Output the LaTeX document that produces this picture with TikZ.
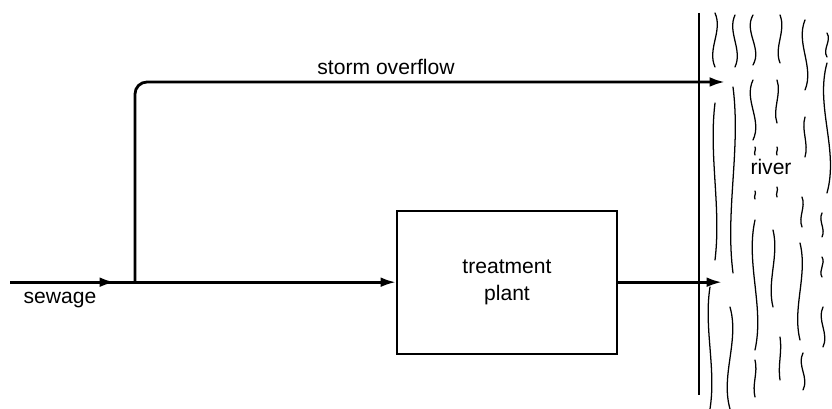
\documentclass[tikz,border=0pt]{standalone}
\usepackage{fontspec}
\setmainfont{Liberation Sans}
\usetikzlibrary{arrows.meta}

\tikzset{
  pipe/.style={line width=2pt},
  flow/.style={pipe, -{Latex[length=11pt,width=7pt]}},
  plantbox/.style={draw, line width=1.4pt, minimum width=5.5cm, minimum height=3.575cm, align=center},
  bank/.style={line width=1.8pt},
  wave/.style={line width=0.9pt, line cap=round},
}

\begin{document}
\begin{tikzpicture}[scale=1]\fontsize{15}{19}\selectfont
			\useasboundingbox (0,0) rectangle (20.8,10.225);

			\coordinate (in) at (0.25,3.17);
			\coordinate (sewtip) at (2.875,3.17);
			\coordinate (split) at (3.375,3.17);
			\coordinate (overtop) at (18.125,8.175);
			\coordinate (out) at (18.05,3.17);

			\node[plantbox] (plant) at (12.675,3.17) {treatment\\plant};

			\draw[pipe] (in) -- (split);
			\draw[flow] (in) -- (sewtip);
			\draw[flow, rounded corners=0.3cm] (split) |- (overtop);
			\draw[flow] (split) -- (plant.west);
			\draw[flow] (plant.east) -- (out);

			\node (sewage) at (1.5,2.725) {sewage};
			\node (storm) at (9.65,8.55) {storm overflow};
			\node (river) at (19.275,6.05) {river};

			% river bank and water
			\draw[bank] (17.475,9.9) -- (17.475,0.35);
			\foreach \x/\a/\b/\d in {
				17.875/9.9/8.55/0.1, 18.375/9.85/8.55/-0.1, 18.825/9.85/8.6/-0.12,
				19.5/9.85/8.65/0.08, 20.125/9.725/7.975/-0.12, 20.675/9.4/8.8/0.06,
				20.675/8.65/5.4/-0.15, 17.875/7.65/3.725/-0.08, 18.325/8.05/3.4/0.1,
				18.825/8.225/6.725/-0.12, 19.425/8.225/7.15/0.06, 20.125/7.3/6.3/-0.05,
				18.875/6.55/6.35/0.02, 19.425/6.55/6.35/0.02,
				18.875/5.45/5.25/0.02, 19.425/5.55/5.3/0.02,
				20.05/5.3/4.55/0.05, 20.55/4.9/4.3/-0.05, 20.55/3.8/3.3/0.05,
				18.875/4.725/1.475/-0.12, 19.325/4.475/2.55/0.08, 20.0/4.15/1.725/0.1,
				20.575/2.55/1.55/-0.08, 17.75/3.05/0.0/-0.08, 18.25/2.55/0.0/0.12,
				19.5/1.8/0.725/0.03, 20.075/1.4/0.475/-0.08, 18.875/1.225/0.3/0.04}
				\draw[wave] (\x,\a) .. controls ({\x+2*\d},{(2*\a+\b)/3}) and ({\x-2*\d},{(\a+2*\b)/3}) .. (\x,\b);
		\end{tikzpicture}
\end{document}
